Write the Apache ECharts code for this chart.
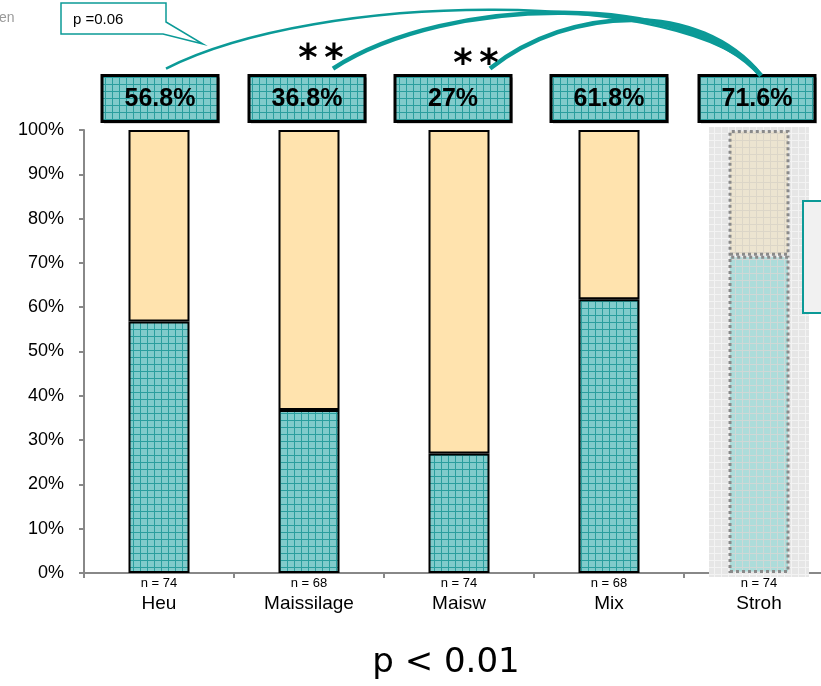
<!DOCTYPE html>
<html>
<head>
<meta charset="utf-8">
<script src="https://cdn.jsdelivr.net/npm/echarts@6/dist/echarts.min.js"></script>
<style>html,body{margin:0;padding:0;background:#fff;}#c{width:821px;height:686px;}</style>
</head>
<body>
<div id="c"></div>
<script>
const categories = ['Heu', 'Maissilage', 'Maisw', 'Mix', 'Stroh'];
const nLabels = ['n = 74', 'n = 68', 'n = 74', 'n = 68', 'n = 74'];
const lowerValues = [56.8, 36.8, 27, 61.8, 71.6];
const upperValues = [43.2, 63.2, 73, 38.2, 28.4];
const boxLabels = ['56.8%', '36.8%', '27%', '61.8%', '71.6%'];
const boxLevel = 107.1;
const yMin = 0, yMax = 100, yInterval = 10;

function gridPattern(bg, line, step) {
  const c = document.createElement('canvas');
  c.width = step; c.height = step;
  const g = c.getContext('2d');
  g.fillStyle = bg; g.fillRect(0, 0, step, step);
  g.fillStyle = line; g.fillRect(0, 0, step, 1); g.fillRect(0, 0, 1, step);
  return { image: c, repeat: 'repeat' };
}
const tealPat = gridPattern('#80CBCB', '#2a9e9e', 7);
const tealFade = gridPattern('#addcda', '#cfd8d6', 7);
const beigeFade = gridPattern('#ece4d0', '#dcd6c8', 7);
const grayPat = gridPattern('#e6e6e6', '#f3f3f3', 7);
const TEAL = '#0b9a97';
const boxShift = [1, -2, -6, 0, -2];

const chart = echarts.init(document.getElementById('c'), null, { renderer: 'canvas' });

const lowerData = lowerValues.map((v, i) => i === 4 ? {
  value: v, itemStyle: { color: tealFade, borderColor: '#8a8a8a', borderType: 'dotted', borderWidth: 3 }
} : v);
const upperData = upperValues.map((v, i) => i === 4 ? {
  value: v, itemStyle: { color: beigeFade, borderColor: '#8a8a8a', borderType: 'dotted', borderWidth: 3 }
} : v);

chart.setOption({
  animation: false,
  grid: { left: 84, top: 130, width: 750, height: 443, containLabel: false, outerBoundsMode: 'none' },
  xAxis: {
    type: 'category', data: categories,
    axisLine: { lineStyle: { color: '#888', width: 2 } },
    axisTick: { show: true, length: 5, lineStyle: { color: '#888', width: 2 } },
    axisLabel: {
      margin: 2, interval: 0,
      formatter: (v, i) => '{n|' + nLabels[i] + '}\n{c|' + v + '}',
      rich: {
        n: { fontSize: 13, lineHeight: 16, fontFamily: 'Liberation Sans', color: '#000' },
        c: { fontSize: 19, lineHeight: 25, fontFamily: 'Liberation Sans', color: '#000' }
      }
    }
  },
  yAxis: {
    type: 'value', min: yMin, max: yMax, interval: yInterval,
    axisLine: { show: true, lineStyle: { color: '#888', width: 2 } },
    axisTick: { show: true, length: 5, lineStyle: { color: '#888', width: 2 } },
    splitLine: { show: false },
    axisLabel: { margin: 20, formatter: '{value}%', fontSize: 18, fontFamily: 'Liberation Sans', color: '#000' }
  },
  series: [
    {
      type: 'bar', stack: 's', barWidth: 61, z: 3, data: lowerData,
      itemStyle: { color: tealPat, borderColor: '#000', borderWidth: 2 }
    },
    {
      type: 'bar', stack: 's', barWidth: 61, z: 3, data: upperData,
      itemStyle: { color: '#FFE3AE', borderColor: '#000', borderWidth: 2 }
    },
    {
      type: 'custom', clip: false, z: 5,
      data: categories.map((c, i) => [i, boxLevel]),
      renderItem: (params, api) => {
        const i = params.dataIndex;
        const p = api.coord([api.value(0), api.value(1)]);
        const cx = p[0] + boxShift[i];
        return {
          type: 'group', children: [
            { type: 'rect', shape: { x: cx - 58 + 2, y: p[1] - 23 + 2, width: 116, height: 46 },
              style: { fill: 'rgba(0,0,0,0.3)' } },
            { type: 'rect', shape: { x: cx - 58, y: p[1] - 23, width: 116, height: 46 },
              style: { fill: tealPat, stroke: '#000', lineWidth: 3 } },
            { type: 'text', style: { text: boxLabels[i], x: cx, y: p[1] + 1, align: 'center', verticalAlign: 'middle',
              font: 'bold 25px "Liberation Sans"', fill: '#000' } }
          ]
        };
      }
    }
  ]
});

const px = (c, v) => chart.convertToPixel({ xAxisIndex: 0, yAxisIndex: 0 }, [c, v]);
const sBottom = px('Stroh', 0), sTop = px('Stroh', 100);
const hx = px('Heu', 0)[0], msx = px('Maissilage', 0)[0], mwx = px('Maisw', 0)[0];
const bTop = px('Heu', boxLevel)[1] - 23;
const end = [sTop[0] + 2, bTop];
const AST = 'bold 37px "DejaVu Sans"';

chart.setOption({
  graphic: [
    { type: 'rect', z: 1, shape: { x: sBottom[0] - 50, y: sTop[1] - 3, width: 100, height: sBottom[1] - sTop[1] + 7 },
      style: { fill: grayPat } },
    { type: 'rect', z: 1, shape: { x: 803, y: 201, width: 40, height: 112 },
      style: { fill: '#f1f1f1', stroke: TEAL, lineWidth: 2 } },
    { type: 'bezierCurve', z: 10, shape: { x1: hx + 7, y1: bTop - 7, cpx1: 320, cpy1: -10, cpx2: 690, cpy2: -12, x2: end[0], y2: end[1] },
      style: { stroke: TEAL, lineWidth: 2.5, fill: null } },
    { type: 'bezierCurve', z: 10, shape: { x1: msx + 24, y1: bTop - 7, cpx1: 450, cpy1: -7, cpx2: 690, cpy2: -7, x2: end[0], y2: end[1] },
      style: { stroke: TEAL, lineWidth: 4.5, fill: null } },
    { type: 'bezierCurve', z: 10, shape: { x1: mwx + 31, y1: bTop - 7, cpx1: 570, cpy1: 5, cpx2: 700, cpy2: 0, x2: end[0], y2: end[1] },
      style: { stroke: TEAL, lineWidth: 4.5, fill: null } },
    { type: 'text', z: 10, style: { text: '*', x: msx - 1, y: 79, textAlign: 'center', textVerticalAlign: 'bottom', font: AST, fill: '#000' } },
    { type: 'text', z: 10, style: { text: '*', x: msx + 25, y: 79, textAlign: 'center', textVerticalAlign: 'bottom', font: AST, fill: '#000' } },
    { type: 'text', z: 10, style: { text: '*', x: mwx + 4, y: 84, textAlign: 'center', textVerticalAlign: 'bottom', font: AST, fill: '#000' } },
    { type: 'text', z: 10, style: { text: '*', x: mwx + 30, y: 84, textAlign: 'center', textVerticalAlign: 'bottom', font: AST, fill: '#000' } },
    { type: 'polygon', z: 11, shape: { points: [[61, 3], [166, 3], [166, 22], [203, 44], [163, 34], [61, 34]] },
      style: { fill: '#fff', stroke: TEAL, lineWidth: 1.5 } },
    { type: 'text', z: 12, style: { text: 'p =0.06', x: 73, y: 20, textVerticalAlign: 'middle', font: '15px "Liberation Sans"', fill: '#000' } },
    { type: 'text', z: 12, style: { text: 'en', x: -1, y: 18, textVerticalAlign: 'middle', font: '14px "Liberation Sans"', fill: '#9a9a9a' } },
    { type: 'text', z: 12, style: { text: 'p < 0.01', x: 446, y: 663, textAlign: 'center', textVerticalAlign: 'middle', font: '34px "DejaVu Sans"', fill: '#000' } }
  ]
});
</script>
</body>
</html>
